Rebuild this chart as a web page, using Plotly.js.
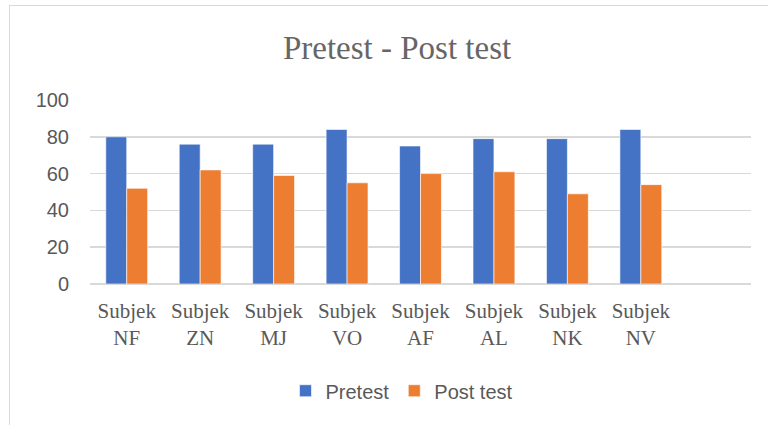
<!DOCTYPE html>
<html>
<head>
<meta charset="utf-8">
<script src="https://cdn.plot.ly/plotly-3.0.1.min.js"></script>
<style>
html,body{margin:0;padding:0;background:#fff;overflow:hidden;}
#frame{position:absolute;left:9px;top:5px;width:800px;height:460px;border:1.5px solid #d9d9d9;box-sizing:border-box;pointer-events:none;z-index:5;}
#chart{position:absolute;left:0;top:0;width:768px;height:425px;}
</style>
</head>
<body>
<div id="chart"></div>
<div id="frame"></div>
<script>
const subjects = ["Subjek<br>NF","Subjek<br>ZN","Subjek<br>MJ","Subjek<br>VO","Subjek<br>AF","Subjek<br>AL","Subjek<br>NK","Subjek<br>NV"];
const pretest = [80, 76, 76, 84, 75, 79, 79, 84];
const posttest = [52, 62, 59, 55, 60, 61, 49, 54];
const yTicks = [0, 20, 40, 60, 80, 100];

const data = [
  {type:"bar", name:"Pretest", x:subjects, y:pretest, marker:{color:"#4472C4", line:{color:"#ffffff", width:0.6}}},
  {type:"bar", name:"Post test", x:subjects, y:posttest, marker:{color:"#ED7D31", line:{color:"#ffffff", width:0.6}}}
];

const layout = {
  width:768, height:425,
  margin:{l:90, r:17, t:100, b:141},
  paper_bgcolor:"rgba(0,0,0,0)", plot_bgcolor:"#fff",
  barmode:"group", bargap:0.43, bargroupgap:0,
  title:{text:"Pretest - Post test", font:{family:"Liberation Serif, serif", size:33, color:"#666666"},
         xref:"container", yref:"container", x:0.517, y:0.889, xanchor:"center", yanchor:"middle"},
  xaxis:{type:"category", range:[-0.5, 8.5], showgrid:false, zeroline:false, showline:false,
         ticks:"", ticklabelstandoff:12,
         tickfont:{family:"Liberation Serif, serif", size:21, color:"#595959"}},
  yaxis:{range:[0,100], tickvals:yTicks, ticktext:yTicks.map(String), showgrid:true, gridcolor:"#d9d9d9", gridwidth:1.5,
         zeroline:true, zerolinecolor:"#d9d9d9", zerolinewidth:1.5, showline:false, ticks:"",
         ticklabelstandoff:20,
         tickfont:{family:"Liberation Sans, Arial, sans-serif", size:20, color:"#595959"}},
  showlegend:true,
  legend:{orientation:"h", x:0.472, xanchor:"center", y:-0.58, yanchor:"middle",
          font:{family:"Liberation Sans, Arial, sans-serif", size:20, color:"#595959"}, itemwidth:30, traceorder:"normal"},
  font:{color:"#595959"}
};

Plotly.newPlot("chart", data, layout, {displayModeBar:false, staticPlot:true});
</script>
</body>
</html>
